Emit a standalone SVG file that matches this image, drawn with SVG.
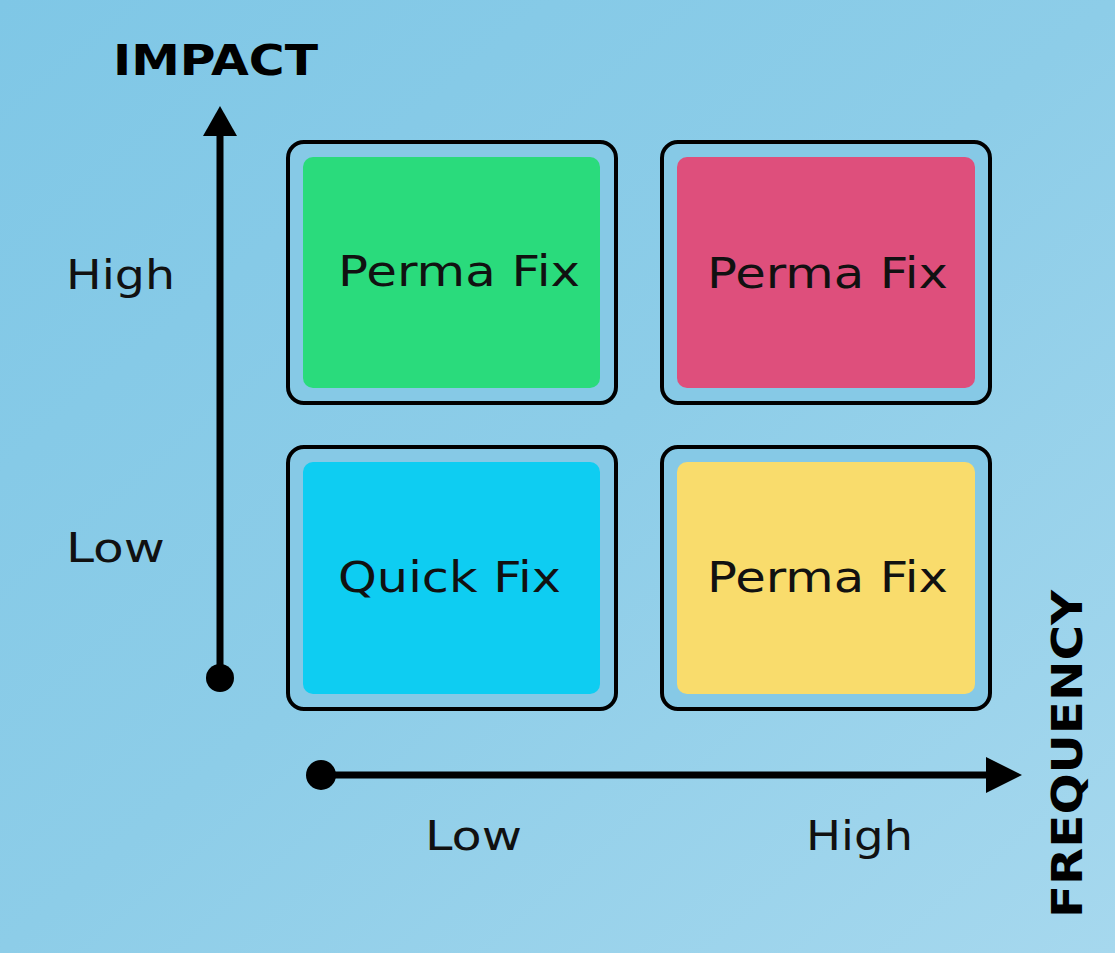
<svg xmlns="http://www.w3.org/2000/svg" width="1115" height="953" viewBox="0 0 1115 953">
<defs>
<linearGradient id="bg" x1="0" y1="0" x2="1" y2="1">
<stop offset="0" stop-color="#7fc7e6"/><stop offset="0.5" stop-color="#8dcde8"/><stop offset="1" stop-color="#a6d8ee"/>
</linearGradient>
<style>
.outer{fill:#86c9e6;stroke:#000;stroke-width:4}
.lbl{font-family:"DejaVu Sans","Open Sans",sans-serif;font-size:40px;fill:#111}
.ax{font-family:"DejaVu Sans","Open Sans",sans-serif;font-size:42px;font-weight:bold;fill:#000}
.box{font-family:"DejaVu Sans","Open Sans",sans-serif;font-size:42px;fill:#111}
</style>
</defs>
<rect width="1115" height="953" fill="url(#bg)"/>
<g id="connectors" fill="#000">
<line x1="220" y1="678" x2="220" y2="130" stroke="#000" stroke-width="7"/>
<polygon points="220,106 237,136 203,136"/>
<line x1="321" y1="775" x2="990" y2="775" stroke="#000" stroke-width="7"/>
<polygon points="1022,775 986,757 986,793"/>
<circle cx="220" cy="678" r="14"/>
<circle cx="321" cy="775" r="15"/>
</g>
<g id="tl"><rect class="outer" x="288" y="142" width="328" height="261" rx="16"/><rect x="303" y="157" width="297" height="231" rx="10" fill="#2adb7c"/><text class="box" x="338" y="286" textLength="242" lengthAdjust="spacingAndGlyphs">Perma Fix</text></g>
<g id="tr"><rect class="outer" x="662" y="142" width="328" height="261" rx="16"/><rect x="677" y="157" width="298" height="231" rx="10" fill="#de4f7c"/><text class="box" x="707" y="288" textLength="241" lengthAdjust="spacingAndGlyphs">Perma Fix</text></g>
<g id="bl"><rect class="outer" x="288" y="447" width="328" height="262" rx="16"/><rect x="303" y="462" width="297" height="232" rx="10" fill="#0ecdf2"/><text class="box" x="338" y="592" textLength="223" lengthAdjust="spacingAndGlyphs">Quick Fix</text></g>
<g id="br"><rect class="outer" x="662" y="447" width="328" height="262" rx="16"/><rect x="677" y="462" width="298" height="232" rx="10" fill="#f9dc6c"/><text class="box" x="707" y="592" textLength="241" lengthAdjust="spacingAndGlyphs">Perma Fix</text></g>
<text class="ax" x="113" y="75" textLength="205" lengthAdjust="spacingAndGlyphs">IMPACT</text>
<text class="ax" transform="translate(1082,918) rotate(-90)" textLength="328" lengthAdjust="spacingAndGlyphs">FREQUENCY</text>
<text class="lbl" x="66" y="289" textLength="109" lengthAdjust="spacingAndGlyphs">High</text>
<text class="lbl" x="66" y="562" textLength="99" lengthAdjust="spacingAndGlyphs">Low</text>
<text class="lbl" x="425" y="850" textLength="97" lengthAdjust="spacingAndGlyphs">Low</text>
<text class="lbl" x="806" y="850" textLength="107" lengthAdjust="spacingAndGlyphs">High</text>
</svg>
